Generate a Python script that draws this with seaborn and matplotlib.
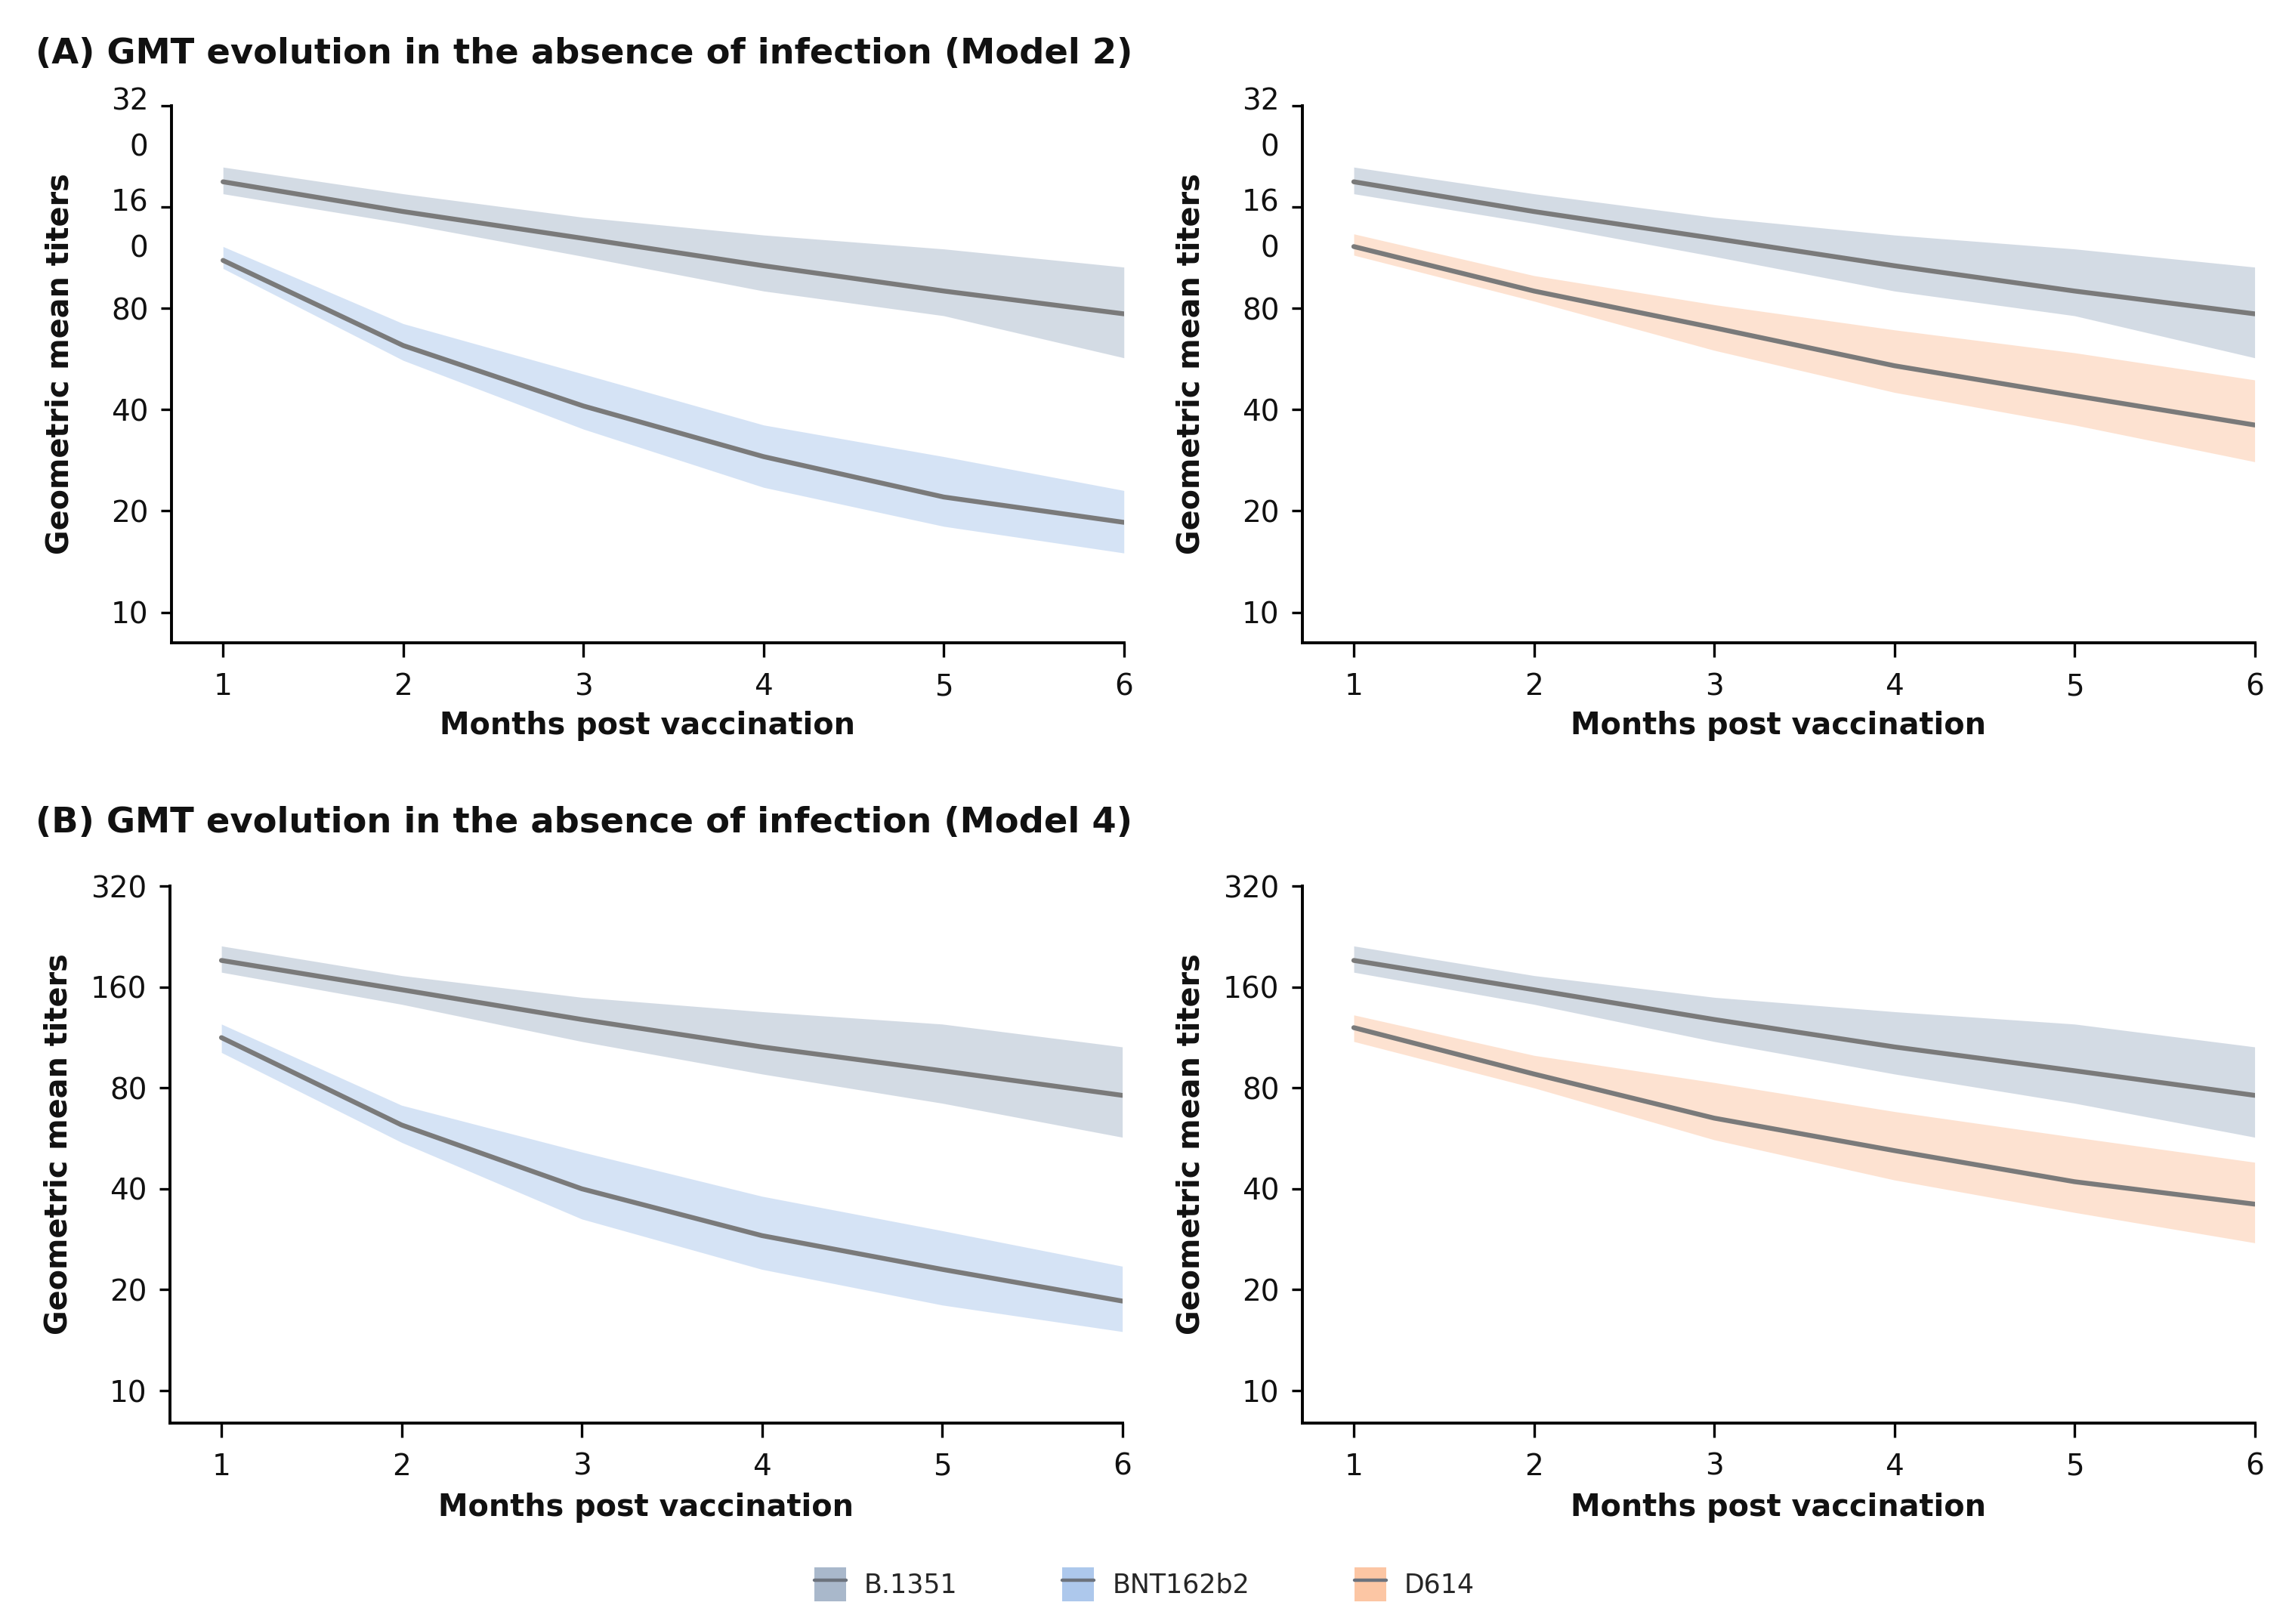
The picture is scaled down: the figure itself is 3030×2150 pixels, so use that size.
import numpy as np
import pandas as pd
import matplotlib
matplotlib.use("Agg")
import matplotlib.pyplot as plt
import matplotlib.transforms as mtransforms
from matplotlib.patches import Patch
from matplotlib.lines import Line2D
from matplotlib.legend_handler import HandlerTuple
import seaborn as sns

# ---------------- data ----------------
months = [1, 2, 3, 4, 5, 6]

# Panel A (Model 2)
a_b1351 = [190, 155, 129, 107, 90, 77]
a_b1351_lo = [175, 143, 114, 90, 76, 57]
a_b1351_hi = [210, 175, 149, 132, 120, 106]

a_bnt = [111, 62, 41, 29, 22, 18.5]
a_bnt_lo = [105, 56, 35, 23.5, 18, 15]
a_bnt_hi = [122, 72, 51, 36, 29, 23]

a_d614 = [122, 90, 70, 54, 44, 36]
a_d614_lo = [115, 84, 60, 45, 36, 28]
a_d614_hi = [133, 100, 82, 69, 59, 49]

# Panel B (Model 4)
b_b1351 = [192, 157, 128, 106, 90, 76]
b_b1351_lo = [177, 142, 110, 88, 72, 57]
b_b1351_hi = [212, 173, 149, 135, 124, 106]

b_bnt = [113, 62, 40, 29, 23, 18.5]
b_bnt_lo = [102, 55, 32.5, 23, 18, 15]
b_bnt_hi = [124, 71, 51.5, 38, 30, 23.5]

b_d614 = [121, 88, 65, 52, 42, 36]
b_d614_lo = [110, 80, 56, 42.5, 34, 27.6]
b_d614_hi = [132, 100, 83, 68, 57, 48]

series_names = ["B.1351", "BNT162b2", "D614"]
ytick_vals = [10, 20, 40, 80, 160, 320]
ytick_labels_a = ["10", "20", "40", "80", "16\n0", "32\n0"]
ytick_labels_b = ["10", "20", "40", "80", "160", "320"]

title_a = "(A) GMT evolution in the absence of infection (Model 2)"
title_b = "(B) GMT evolution in the absence of infection (Model 4)"
xlabel = "Months post vaccination"
ylabel = "Geometric mean titers"

# ---------------- styling ----------------
sns.set_theme(style="white")
plt.rcParams["font.family"] = ["DejaVu Sans"]

band_colors = {"B.1351": "#a9b8cb", "BNT162b2": "#adc8ec", "D614": "#fcc6a4"}
line_color = "#7a7a7a"
tick_fs = 14

fig = plt.figure(figsize=(15.15, 10.75), dpi=200)

ax_al = fig.add_axes([0.075, 0.604, 0.416, 0.331])
ax_ar = fig.add_axes([0.569, 0.604, 0.416, 0.331])
ax_bl = fig.add_axes([0.0743, 0.1237, 0.416, 0.3307])
ax_br = fig.add_axes([0.569, 0.1237, 0.416, 0.3307])

panels = [
    (ax_al, [("B.1351", a_b1351, a_b1351_lo, a_b1351_hi), ("BNT162b2", a_bnt, a_bnt_lo, a_bnt_hi)], "A"),
    (ax_ar, [("B.1351", a_b1351, a_b1351_lo, a_b1351_hi), ("D614", a_d614, a_d614_lo, a_d614_hi)], "A"),
    (ax_bl, [("B.1351", b_b1351, b_b1351_lo, b_b1351_hi), ("BNT162b2", b_bnt, b_bnt_lo, b_bnt_hi)], "B"),
    (ax_br, [("B.1351", b_b1351, b_b1351_lo, b_b1351_hi), ("D614", b_d614, b_d614_lo, b_d614_hi)], "B"),
]

for ax, series, row in panels:
    for name, mid, lo, hi in series:
        ax.fill_between(months, lo, hi, color=band_colors[name], alpha=0.5, lw=0, zorder=1)
        df = pd.DataFrame({"month": months, "gmt": mid})
        sns.lineplot(data=df, x="month", y="gmt", ax=ax, color=line_color,
                     lw=2.3, zorder=3, errorbar=None)
    ax.set_yscale("log", base=2)
    ax.set_xlim(0.715, 6)
    ax.set_ylim(8.1 if row == "A" else 8.0, 320)
    ax.set_xticks(months)
    ax.set_xticklabels([str(m) for m in months])
    ax.set_yticks(ytick_vals)
    ax.yaxis.set_minor_locator(matplotlib.ticker.NullLocator())
    ax.set_yticklabels(ytick_labels_a if row == "A" else ytick_labels_b)
    for s in ["top", "right"]:
        ax.spines[s].set_visible(False)
    for s in ["left", "bottom"]:
        ax.spines[s].set_color("black")
        ax.spines[s].set_linewidth(1.4)
    ax.tick_params(axis="y", which="major", direction="out", length=5, width=1.2,
                   color="black", pad=6, labelsize=tick_fs, labelcolor="#111111", left=True)
    ax.tick_params(axis="x", which="major", direction="out", length=7, width=1.2,
                   color="black", pad=7, labelsize=tick_fs, labelcolor="#111111", bottom=True)
    ax.set_xlabel(xlabel, fontsize=14.3, fontweight="bold", color="#111111")
    ax.set_ylabel(ylabel, fontsize=14.3, fontweight="bold", color="#111111")
    ax.yaxis.set_label_coords(-0.101, 0.52)
    ax.xaxis.set_label_coords(0.5, -0.126 if row == "A" else -0.13)
    ax.grid(False)
    ax.set_facecolor("white")
    if row == "A":
        off = mtransforms.ScaledTranslation(0, tick_fs * 0.62 / 72, fig.dpi_scale_trans)
        for lab in ax.get_yticklabels():
            if "\n" in lab.get_text():
                lab.set_verticalalignment("top")
                lab.set_horizontalalignment("right")
                lab.set_multialignment("right")
                lab.set_linespacing(1.75)
                lab.set_transform(lab.get_transform() + off)

fig.text(0.0155, 1 - 72 / 2150, title_a, fontsize=16.7, fontweight="bold",
         va="center", ha="left", color="#111111")
fig.text(0.0155, 1 - 1089 / 2150, title_b, fontsize=16.7, fontweight="bold",
         va="center", ha="left", color="#111111")

handles = [(Patch(facecolor=band_colors[n], edgecolor="none"),
            Line2D([], [], color="#6c737d", lw=1.6)) for n in series_names]
fig.legend(handles, series_names, loc="center", bbox_to_anchor=(0.5, 0.0245),
           ncol=3, frameon=False, fontsize=12.5, handlelength=1.2, handleheight=1.6,
           columnspacing=4.0, handletextpad=0.7,
           handler_map={tuple: HandlerTuple(ndivide=1, pad=0)})

fig.savefig("out.png", dpi=200, facecolor="white")
